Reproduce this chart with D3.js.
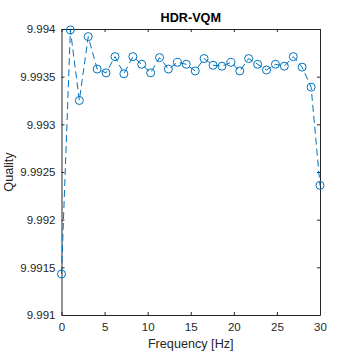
<!DOCTYPE html>
<html>
  <head>
    <meta charset="utf-8">
    <title>HDR-VQM</title>
    <script src="https://d3js.org/d3.v7.min.js"></script>
    <style>
      body { margin: 0; background: #fff; }
      text { font-family: "Liberation Sans", Arial, sans-serif; fill: #262626; }
    </style>
  </head>
  <body>
    <svg id="canvas" width="354" height="354"></svg>
    <script>
      // data
      const frequency = [0, 1.03, 2.07, 3.10, 4.14, 5.17, 6.21, 7.24, 8.28, 9.31,
        10.34, 11.38, 12.41, 13.45, 14.48, 15.52, 16.55, 17.59, 18.62, 19.66,
        20.69, 21.72, 22.76, 23.79, 24.83, 25.86, 26.90, 27.93, 28.97, 30];
      const quality = [9.99143, 9.99399, 9.99325, 9.99392, 9.99358, 9.99354, 9.99371, 9.99353, 9.99371, 9.99363,
        9.99354, 9.99370, 9.99358, 9.99365, 9.99363, 9.99356, 9.99369, 9.99362, 9.99361, 9.99365,
        9.99356, 9.99369, 9.99363, 9.99357, 9.99363, 9.99361, 9.99371, 9.99360, 9.99339, 9.99236];
      const xTicks = [0, 5, 10, 15, 20, 25, 30];
      const yTicks = [9.991, 9.9915, 9.992, 9.9925, 9.993, 9.9935, 9.994];
      const yTickLabels = ["9.991", "9.9915", "9.992", "9.9925", "9.993", "9.9935", "9.994"];

      const plotLeft = 61.5, plotRight = 320, plotTop = 29, plotBottom = 315;
      const blue = "#0072BD", ink = "#262626";

      const canvas = d3.select("#canvas");

      const x = d3.scaleLinear().domain([0, 30]).range([plotLeft, plotRight]);
      const y = d3.scaleLinear().domain([9.991, 9.994]).range([plotBottom, plotTop]);

      // axes (ticks inside, box on)
      const tick = 3;
      canvas.append("g")
          .attr("transform", "translate(0," + plotBottom + ")")
          .call(d3.axisBottom(x).tickValues(xTicks).tickSizeInner(-tick).tickSizeOuter(0).tickPadding(8))
          .call(g => g.selectAll("text").style("font-size", "11.5px"));
      canvas.append("g")
          .attr("transform", "translate(0," + plotTop + ")")
          .call(d3.axisTop(x).tickValues(xTicks).tickSizeInner(-tick).tickSizeOuter(0).tickFormat(""));
      canvas.append("g")
          .attr("transform", "translate(" + plotLeft + ",0)")
          .call(d3.axisLeft(y).tickValues(yTicks).tickSizeInner(-tick).tickSizeOuter(0).tickPadding(6)
            .tickFormat((d, i) => yTickLabels[i]))
          .call(g => g.selectAll("text").style("font-size", "11.5px"));
      canvas.append("g")
          .attr("transform", "translate(" + plotRight + ",0)")
          .call(d3.axisRight(y).tickValues(yTicks).tickSizeInner(-tick).tickSizeOuter(0).tickFormat(""));

      canvas.selectAll(".domain").attr("stroke", ink);
      canvas.selectAll(".tick line").attr("stroke", ink);
      canvas.selectAll(".tick text").attr("fill", ink).attr("font-family", null);
      canvas.selectAll("g").attr("font-family", null);

      // data line
      const points = frequency.map((f, i) => [f, quality[i]]);
      canvas.append("path")
          .datum(points)
          .attr("fill", "none")
          .attr("stroke", blue)
          .attr("stroke-width", 1)
          .attr("stroke-dasharray", "7,4")
          .attr("d", d3.line().x(d => x(d[0])).y(d => y(d[1])));
      canvas.append("g")
        .selectAll("circle")
          .data(points)
        .enter().append("circle")
          .attr("cx", d => x(d[0]))
          .attr("cy", d => y(d[1]))
          .attr("r", 4)
          .attr("fill", "none")
          .attr("stroke", blue)
          .attr("stroke-width", 1);

      // labels
      canvas.append("text")
          .attr("x", (plotLeft + plotRight) / 2)
          .attr("y", 22)
          .attr("text-anchor", "middle")
          .style("font-size", "12.65px")
          .style("font-weight", "bold")
          .style("fill", "#000")
          .text("HDR-VQM");
      canvas.append("text")
          .attr("x", (plotLeft + plotRight) / 2)
          .attr("y", 348)
          .attr("text-anchor", "middle")
          .style("font-size", "12.65px")
          .text("Frequency [Hz]");
      canvas.append("text")
          .attr("transform", "translate(13," + (plotTop + plotBottom) / 2 + ") rotate(-90)")
          .attr("text-anchor", "middle")
          .style("font-size", "12.65px")
          .text("Quality");
    </script>
  </body>
</html>
